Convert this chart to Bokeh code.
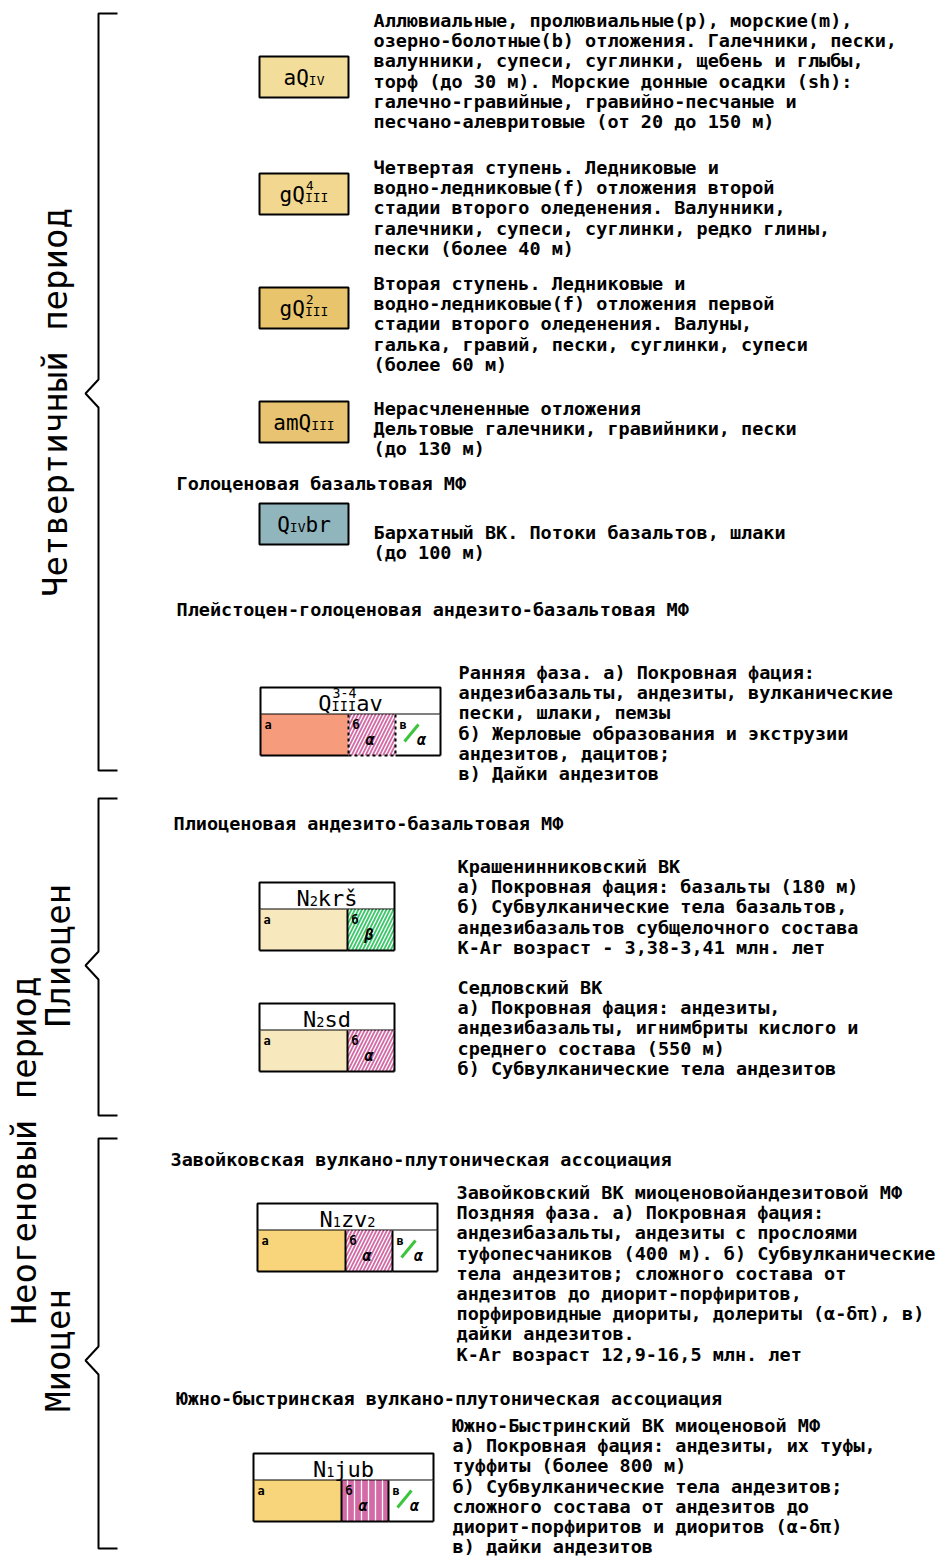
import math
from bokeh.plotting import figure
from bokeh.models import ColumnDataSource
from bokeh.core.properties import value
from bokeh.embed import file_html
from bokeh.resources import INLINE

# ------------------------------------------------------------------ data
period_labels = ["Четвертичный период", "Неогеновый период"]
epoch_labels = ["Плиоцен", "Миоцен"]

# label parts: (text, kind)  n = normal, s = subscript, u = superscript stacked over next part
simple_labels = [
    [("aQ", "n"), ("IV", "s")],
    [("gQ", "n"), ("4", "u"), ("III", "s")],
    [("gQ", "n"), ("2", "u"), ("III", "s")],
    [("amQ", "n"), ("III", "s")],
    [("Q", "n"), ("IV", "s"), ("br", "n")],
]
simple_desc = [
    ["Аллювиальные, пролювиальные(р), морские(m),",
     "озерно-болотные(b) отложения. Галечники, пески,",
     "валунники, супеси, суглинки, щебень и глыбы,",
     "торф (до 30 м). Морские донные осадки (sh):",
     "галечно-гравийные, гравийно-песчаные и",
     "песчано-алевритовые (от 20 до 150 м)"],
    ["Четвертая ступень. Ледниковые и",
     "водно-ледниковые(f) отложения второй",
     "стадии второго оледенения. Валунники,",
     "галечники, супеси, суглинки, редко глины,",
     "пески (более 40 м)"],
    ["Вторая ступень. Ледниковые и",
     "водно-ледниковые(f) отложения первой",
     "стадии второго оледенения. Валуны,",
     "галька, гравий, пески, суглинки, супеси",
     "(более 60 м)"],
    ["Нерасчлененные отложения",
     "Дельтовые галечники, гравийники, пески",
     "(до 130 м)"],
    ["Бархатный ВК. Потоки базальтов, шлаки",
     "(до 100 м)"],
]

group_headers = [
    "Голоценовая базальтовая МФ",
    "Плейстоцен-голоценовая андезито-базальтовая МФ",
    "Плиоценовая андезито-базальтовая МФ",
    "Завойковская вулкано-плутоническая ассоциация",
    "Южно-быстринская вулкано-плутоническая ассоциация",
]

comp_labels = [
    [("Q", "n"), ("3-4", "u"), ("III", "s"), ("av", "n")],
    [("N", "n"), ("2", "s"), ("krš", "n")],
    [("N", "n"), ("2", "s"), ("sd", "n")],
    [("N", "n"), ("1", "s"), ("zv", "n"), ("2", "s")],
    [("N", "n"), ("1", "s"), ("jub", "n")],
]
# cells: (letter, kind, symbol)
comp_cells = [
    [("а", "flow", ""), ("б", "vent", "α"), ("в", "dyke", "α")],
    [("а", "flow", ""), ("б", "subv_b", "β")],
    [("а", "flow", ""), ("б", "subv", "α")],
    [("а", "flow", ""), ("б", "subv", "α"), ("в", "dyke", "α")],
    [("а", "flow", ""), ("б", "subv_v", "α"), ("в", "dyke", "α")],
]
comp_desc = [
    ["Ранняя фаза. а) Покровная фация:",
     "андезибазальты, андезиты, вулканические",
     "пески, шлаки, пемзы",
     "б) Жерловые образования и экструзии",
     "андезитов, дацитов;",
     "в) Дайки андезитов"],
    ["Крашенинниковский ВК",
     "а) Покровная фация: базальты (180 м)",
     "б) Субвулканические тела базальтов,",
     "андезибазальтов субщелочного состава",
     "K-Ar возраст - 3,38-3,41 млн. лет"],
    ["Седловский ВК",
     "а) Покровная фация: андезиты,",
     "андезибазальты, игнимбриты кислого и",
     "среднего состава (550 м)",
     "б) Субвулканические тела андезитов"],
    ["Завойковский ВК миоценовойандезитовой МФ",
     "Поздняя фаза. а) Покровная фация:",
     "андезибазальты, андезиты с прослоями",
     "туфопесчаников (400 м). б) Субвулканические",
     "тела андезитов; сложного состава от",
     "андезитов до диорит-порфиритов,",
     "порфировидные диориты, долериты (α-δπ), в)",
     "дайки андезитов.",
     "K-Ar возраст 12,9-16,5 млн. лет"],
    ["Южно-Быстринский ВК миоценовой МФ",
     "а) Покровная фация: андезиты, их туфы,",
     "туффиты (более 800 м)",
     "б) Субвулканические тела андезитов;",
     "сложного состава от андезитов до",
     "диорит-порфиритов и диоритов (α-δπ)",
     "в) дайки андезитов"],
]

# ------------------------------------------------------------------ styles / layout
simple_fill = ["#F3DD9A", "#F1D78F", "#E8C56C", "#E8C472", "#90B5BD"]
comp_flow_fill = ["#F69C7C", "#F8E8BD", "#F8E8BD", "#F8D57B", "#F8D57B"]
PINK = "#D46BA6"
GREEN = "#3CC86A"
DYKE = "#3DC43D"

FONT = value("DejaVu Sans Mono")
BODY_SIZE = 18.5
LINE_STEP = 20.2

simple_box_x = 259
simple_box_w = 89
simple_box_top = [56, 173, 287, 401, 503]
simple_box_h = 41
simple_desc_x = 373
simple_desc_y = [20, 167, 283, 408, 532]

header_x = [176, 176, 173, 170, 176]
header_y = [483, 609, 823, 1159, 1398]

comp_x = [260, 259, 259, 257, 253]
comp_top = [687, 882, 1003, 1203, 1453]
comp_head_h = 27
comp_body_h = 41
cell_w = {"а": 88, "б": 47, "в": 45}
comp_desc_x = [458, 457, 457, 456, 452]
comp_desc_y = [672, 866, 987, 1192, 1425]

bracket_top = [13, 798, 1138]
bracket_bot = [770, 1115, 1548]
bracket_tip = [393, 965, 1360]
BR_X, BR_HOOK, BR_TIP = 98, 117, 85

period_pos = [(54, 402), (23, 1150)]
epoch_pos = [(57, 955), (57, 1350)]

# ------------------------------------------------------------------ figure
W, H = 949, 1556
p = figure(width=W, height=H, x_range=(0, W), y_range=(H, 0),
           output_backend="svg", toolbar_location=None, min_border=0,
           x_axis_location=None, y_axis_location=None)
p.grid.visible = False
p.outline_line_color = None
p.background_fill_color = "white"

# brackets
bx, by = [], []
for t, b, m in zip(bracket_top, bracket_bot, bracket_tip):
    bx.append([BR_HOOK, BR_X, BR_X, BR_TIP, BR_X, BR_X, BR_HOOK])
    by.append([t, t, m - 14, m, m + 14, b, b])
p.multi_line(xs=bx, ys=by, line_color="black", line_width=2)

# vertical labels
vx = [q[0] for q in period_pos] + [q[0] for q in epoch_pos]
vy = [q[1] for q in period_pos] + [q[1] for q in epoch_pos]
p.text(x=vx, y=vy, text=period_labels + epoch_labels, angle=math.pi / 2,
       text_font=FONT, text_font_size="34px", text_align="center",
       text_baseline="middle", text_color="black")

# body texts
tx, ty, tt = [], [], []
for lines, y0 in zip(simple_desc, simple_desc_y):
    for i, s in enumerate(lines):
        tx.append(simple_desc_x); ty.append(y0 + i * LINE_STEP); tt.append(s)
for lines, x0, y0 in zip(comp_desc, comp_desc_x, comp_desc_y):
    for i, s in enumerate(lines):
        tx.append(x0); ty.append(y0 + i * LINE_STEP); tt.append(s)
tx += header_x; ty += header_y; tt += group_headers
p.text(x=tx, y=ty, text=tt, text_font=FONT, text_font_size=f"{BODY_SIZE}px",
       text_font_style="bold", text_align="left", text_baseline="middle",
       text_color="black")


def draw_label(parts, cx, cy, size):
    char_w = {"n": 0.602 * size, "s": 0.602 * size * 0.62, "u": 0.602 * size * 0.6}
    total = sum(len(s) * char_w[k] for s, k in parts if k != "u")
    x = cx - total / 2
    xs, ys, ts, fs = [], [], [], []
    for s, k in parts:
        if k == "n":
            xs.append(x); ys.append(cy); ts.append(s); fs.append(f"{size}px")
            x += len(s) * char_w[k]
        elif k == "s":
            xs.append(x); ys.append(cy + size * 0.12); ts.append(s); fs.append(f"{size*0.62:.1f}px")
            x += len(s) * char_w[k]
        else:
            xs.append(x + 1); ys.append(cy - size * 0.45); ts.append(s); fs.append(f"{size*0.6:.1f}px")
    src = ColumnDataSource(dict(x=xs, y=ys, text=ts, fs=fs))
    p.text(x="x", y="y", text="text", source=src, text_font=FONT, text_font_size="fs",
           text_align="left", text_baseline="middle", text_color="black")


# simple boxes
for i, parts in enumerate(simple_labels):
    top = simple_box_top[i]
    p.quad(left=[simple_box_x], right=[simple_box_x + simple_box_w], top=[top],
           bottom=[top + simple_box_h], fill_color=simple_fill[i], line_color="black",
           line_width=2)
    draw_label(parts, simple_box_x + simple_box_w / 2, top + simple_box_h / 2 + 1, 21)

# composite boxes
for i, parts in enumerate(comp_labels):
    x0 = comp_x[i]
    top = comp_top[i]
    mid = top + comp_head_h
    bot = mid + comp_body_h
    cells = comp_cells[i]
    width = sum(cell_w[c[0]] for c in cells)
    p.quad(left=[x0], right=[x0 + width], top=[top], bottom=[mid], fill_color="white",
           line_color="black", line_width=2)
    # boundaries
    bounds = [x0]
    for c in cells:
        bounds.append(bounds[-1] + cell_w[c[0]])
    kinds = [c[1] for c in cells]
    for j, (letter, kind, sym) in enumerate(cells):
        l, r = bounds[j], bounds[j + 1]
        w = r - l
        kw = dict(left=[l], right=[r], top=[mid], bottom=[bot], line_color=None)
        if kind == "flow":
            p.quad(fill_color=comp_flow_fill[i], **kw)
        elif kind in ("vent", "subv", "subv_v"):
            pat = "vertical_line" if kind == "subv_v" else "right_diagonal_line"
            p.quad(fill_color=PINK, hatch_pattern=pat, hatch_color="white",
                   hatch_scale=7, hatch_weight=1.3, **kw)
        elif kind == "subv_b":
            p.quad(fill_color=GREEN, hatch_pattern="right_diagonal_line", hatch_color="white",
                   hatch_scale=7, hatch_weight=1.3, **kw)
        else:
            p.quad(fill_color="white", **kw)
            p.segment(x0=[l + 9], y0=[mid + 27], x1=[l + 23], y1=[mid + 10],
                      line_color=DYKE, line_width=3)
        p.text(x=[l + 4], y=[mid + 3], text=[letter], text_font=FONT, text_font_size="12px",
               text_font_style="bold", text_align="left", text_baseline="top",
               text_color="black")
        if sym:
            sx = l + 26 if kind == "dyke" else l + w / 2 - 2
            p.text(x=[sx], y=[mid + 25], text=[sym], text_font=FONT, text_font_size="15px",
                   text_font_style="bold italic", text_align="center", text_baseline="middle",
                   text_color="black")
    # borders: solid, dashed around vent cells
    sx0, sy0, sx1, sy1 = [], [], [], []
    dx0, dy0, dx1, dy1 = [], [], [], []
    for j in range(len(bounds)):
        adj_vent = (j > 0 and kinds[j - 1] == "vent") or (j < len(kinds) and kinds[j] == "vent")
        inner = 0 < j < len(kinds)
        if adj_vent and inner:
            dx0.append(bounds[j]); dy0.append(mid); dx1.append(bounds[j]); dy1.append(bot)
        else:
            sx0.append(bounds[j]); sy0.append(mid); sx1.append(bounds[j]); sy1.append(bot)
    for j, k in enumerate(kinds):
        if k == "vent":
            dx0.append(bounds[j]); dy0.append(bot); dx1.append(bounds[j + 1]); dy1.append(bot)
        else:
            sx0.append(bounds[j]); sy0.append(bot); sx1.append(bounds[j + 1]); sy1.append(bot)
    p.segment(x0=sx0, y0=sy0, x1=sx1, y1=sy1, line_color="black", line_width=2)
    if dx0:
        p.segment(x0=dx0, y0=dy0, x1=dx1, y1=dy1, line_color="black", line_width=2,
                  line_dash="3 3")
    draw_label(parts, x0 + width / 2, top + comp_head_h / 2 + 2, 22)

open("out.html", "w").write(file_html(p, INLINE))
